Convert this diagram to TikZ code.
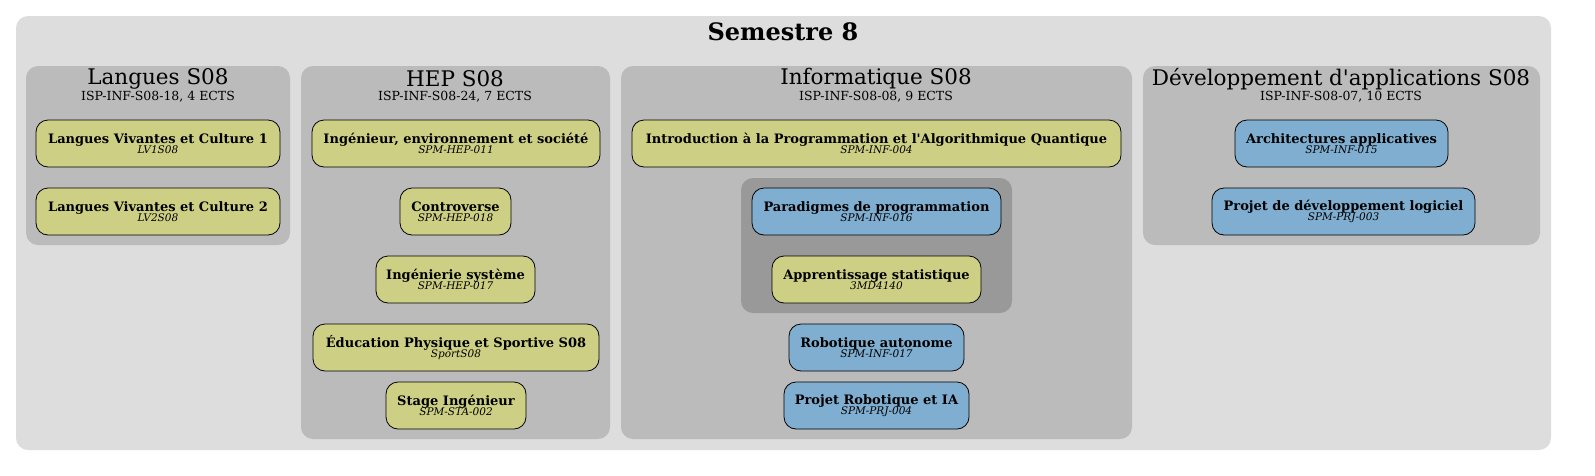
\documentclass[tikz,border=0pt]{standalone}
\usepackage{fontspec}
\setmainfont{DejaVu Serif}[Ligatures=TeXOff]
\definecolor{outerc}{HTML}{DDDDDD}
\definecolor{clc}{HTML}{BBBBBB}
\definecolor{innc}{HTML}{999999}
\definecolor{yel}{HTML}{CDD084}
\definecolor{blu}{HTML}{7FAED0}
\newcommand{\lbl}[2]{{\fontsize{13}{13}\selectfont\bfseries #1}\\[-2pt]{\fontsize{10.5}{11}\selectfont\itshape #2}}
\begin{document}
\begin{tikzpicture}[x=1pt,y=-1pt,
  course/.style={draw=black,line width=0.8pt,rounded corners=12pt,inner sep=0pt,minimum height=47pt,align=center},
  ycourse/.style={course,fill=yel},
  bcourse/.style={course,fill=blu},
  ctitle/.style={font=\fontsize{21.5}{23}\selectfont,inner sep=0pt},
  csub/.style={font=\fontsize{12.5}{14}\selectfont,inner sep=0pt}]
\useasboundingbox (0,0) rectangle (1595,475);
\fill[outerc,rounded corners=12pt] (16,16) rectangle (1551,450);
\node[inner sep=0pt,font=\fontsize{24}{26}\selectfont\bfseries] (title) at (783,32) {Semestre 8};
% clusters
\fill[clc,rounded corners=12pt] (26,66) rectangle (290,245);
\fill[clc,rounded corners=12pt] (301,66) rectangle (610,439);
\fill[clc,rounded corners=12pt] (621,66) rectangle (1132,439);
\fill[clc,rounded corners=12pt] (1143,66) rectangle (1540,245);
\fill[innc,rounded corners=12pt] (741,178) rectangle (1012,313);
\node[ctitle] (t1) at (158,79) {Langues S08};
\node[csub] (s1) at (158,97) {ISP-INF-S08-18, 4 ECTS};
\node[ctitle] (t2) at (455,79) {HEP S08};
\node[csub] (s2) at (455,97) {ISP-INF-S08-24, 7 ECTS};
\node[ctitle] (t3) at (876,79) {Informatique S08};
\node[csub] (s3) at (876,97) {ISP-INF-S08-08, 9 ECTS};
\node[ctitle] (t4) at (1341,79) {Développement d'applications S08};
\node[csub] (s4) at (1341,97) {ISP-INF-S08-07, 10 ECTS};
% Langues
\node[ycourse,minimum width=244pt] (lv1) at (158,143.5) {\lbl{Langues Vivantes et Culture 1}{LV1S08}};
\node[ycourse,minimum width=244pt] (lv2) at (158,211.5) {\lbl{Langues Vivantes et Culture 2}{LV2S08}};
% HEP
\node[ycourse,minimum width=288pt] (h1) at (456,143.5) {\lbl{Ingénieur, environnement et société}{SPM-HEP-011}};
\node[ycourse,minimum width=111pt] (h2) at (455.5,211.5) {\lbl{Controverse}{SPM-HEP-018}};
\node[ycourse,minimum width=159pt] (h3) at (455.5,279.5) {\lbl{Ingénierie système}{SPM-HEP-017}};
\node[ycourse,minimum width=286pt] (h4) at (456,347.5) {\lbl{Éducation Physique et Sportive S08}{SportS08}};
\node[ycourse,minimum width=140pt] (h5) at (456,405.5) {\lbl{Stage Ingénieur}{SPM-STA-002}};
% Informatique
\node[ycourse,minimum width=489pt] (i1) at (876.5,143.5) {\lbl{Introduction à la Programmation et l'Algorithmique Quantique}{SPM-INF-004}};
\node[bcourse,minimum width=249pt] (i2) at (876.5,211.5) {\lbl{Paradigmes de programmation}{SPM-INF-016}};
\node[ycourse,minimum width=209pt] (i3) at (876.5,279.5) {\lbl{Apprentissage statistique}{3MD4140}};
\node[bcourse,minimum width=175pt] (i4) at (876.5,347.5) {\lbl{Robotique autonome}{SPM-INF-017}};
\node[bcourse,minimum width=185pt] (i5) at (876.5,405.5) {\lbl{Projet Robotique et IA}{SPM-PRJ-004}};
% Dev
\node[bcourse,minimum width=213pt] (d1) at (1341.5,143.5) {\lbl{Architectures applicatives}{SPM-INF-015}};
\node[bcourse,minimum width=263pt] (d2) at (1343.5,211.5) {\lbl{Projet de développement logiciel}{SPM-PRJ-003}};
\end{tikzpicture}
\end{document}
